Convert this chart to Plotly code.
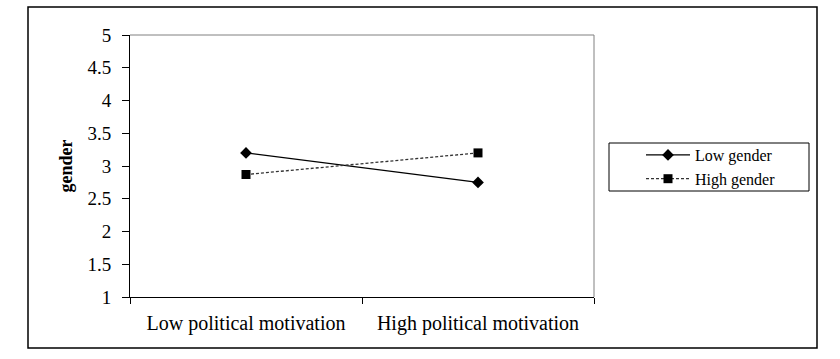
import plotly.graph_objects as go

categories = ["Low political motivation", "High political motivation"]
low_gender = [3.2, 2.75]
high_gender = [2.87, 3.2]
y_ticks = [1, 1.5, 2, 2.5, 3, 3.5, 4, 4.5, 5]
y_ticktext = ["1", "1.5", "2", "2.5", "3", "3.5", "4", "4.5", "5"]

FONT = "Liberation Serif, Times New Roman, serif"

fig = go.Figure()
fig.add_trace(go.Scatter(
    x=categories, y=low_gender, name="Low gender", mode="lines+markers",
    line=dict(color="black", width=1.3),
    marker=dict(symbol="diamond", size=9, color="black"),
))
fig.add_trace(go.Scatter(
    x=categories, y=high_gender, name="High gender", mode="lines+markers",
    line=dict(color="#333333", width=1.3, dash="3px,2px"),
    marker=dict(symbol="square", size=9, color="black"),
))

L, R, T, B = 130, 594, 35, 297
W, H = 840, 359
pw, ph = R - L, B - T

def px(x):
    return (x - L) / pw

def py(y):
    return (B - y) / ph

fig.update_layout(
    width=W, height=H,
    margin=dict(l=L, r=W - R, t=T, b=H - B, pad=0),
    paper_bgcolor="white", plot_bgcolor="white",
    font=dict(family=FONT, size=17, color="black"),
    showlegend=True,
    legend=dict(
        x=px(641), y=py(138), xanchor="left", yanchor="top",
        borderwidth=0, bgcolor="rgba(0,0,0,0)",
        font=dict(family=FONT, size=16, color="black"),
        itemwidth=44, tracegroupgap=0,
    ),
    xaxis=dict(
        type="category", tickson="boundaries", ticks="outside", ticklen=6,
        tickcolor="black", showline=True, linecolor="black", linewidth=1,
        showgrid=False, zeroline=False,
        tickfont=dict(family=FONT, size=20, color="black"),
        ticklabelstandoff=8,
        range=[-0.5, 1.5],
    ),
    yaxis=dict(
        range=[1, 5], tickvals=y_ticks, ticktext=y_ticktext,
        ticks="outside", ticklen=7, tickcolor="black",
        showline=True, linecolor="black", linewidth=1,
        showgrid=False, zeroline=False,
        tickfont=dict(family=FONT, size=19, color="black"),
        ticklabelstandoff=7,
        title=dict(text="<b>gender</b>", font=dict(family=FONT, size=18, color="black"), standoff=10),
    ),
    shapes=[
        dict(type="line", xref="paper", yref="paper", x0=0, x1=1, y0=1, y1=1,
             line=dict(color="#808080", width=1)),
        dict(type="line", xref="paper", yref="paper", x0=1, x1=1, y0=0, y1=1,
             line=dict(color="#808080", width=1)),
        dict(type="rect", xref="paper", yref="paper",
             x0=px(609), x1=px(809), y0=py(191), y1=py(143),
             line=dict(color="black", width=1), fillcolor="rgba(0,0,0,0)"),
        dict(type="rect", xref="paper", yref="paper",
             x0=px(28), x1=px(817), y0=py(348), y1=py(7),
             line=dict(color="black", width=1.5), fillcolor="rgba(0,0,0,0)"),
    ],
)

fig.write_html("out.html", config={"displayModeBar": False},
               post_script="document.body.style.margin='0';")
